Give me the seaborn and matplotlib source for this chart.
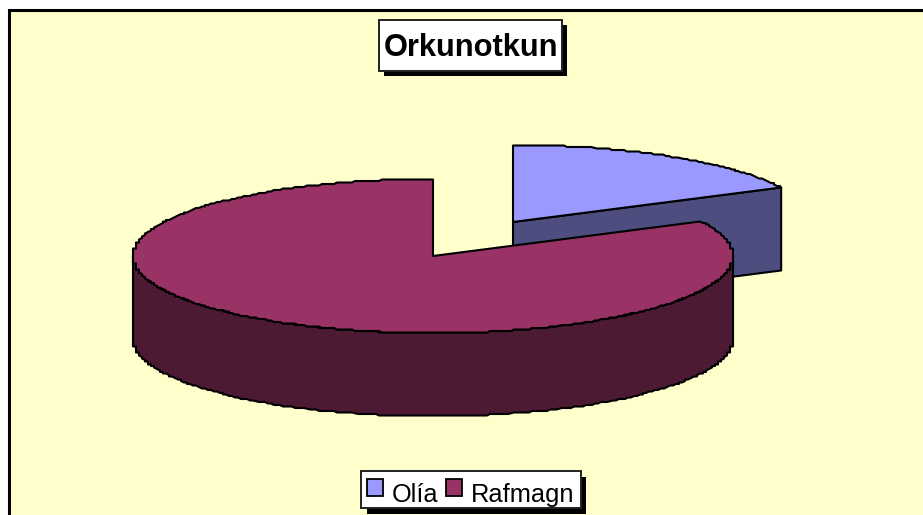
import numpy as np
import matplotlib
matplotlib.use("Agg")
import matplotlib.pyplot as plt
import seaborn as sns
from matplotlib.patches import Patch, Polygon, Rectangle

title = "Orkunotkun"
categories = ["Olía", "Rafmagn"]
values = [17.6, 82.4]
top_colors = ["#9999FF", "#993366"]
side_colors = ["#4D4D80", "#4D1A33"]

BG = "#FFFFCC"
RX, RY, DEPTH = 300, 77, 83


def rim(cx, cy, start, stop, n=240):
    # stepped rim: the original is rasterised with small jagged edges
    t = np.radians(np.linspace(start, stop, n))
    x = RX * np.cos(t)
    y = RY * np.sin(t)
    return np.column_stack([cx + np.round(x / 3) * 3, cy - np.round(y / 1.5) * 1.5])


sns.set_theme(style="white")
plt.rcParams["font.family"] = ["Liberation Sans", "DejaVu Sans"]

fig = plt.figure(figsize=(9.23, 5.15), dpi=100, facecolor="white")
ax = fig.add_axes([0, 0, 1, 1])
ax.set_xlim(0, 923)
ax.set_ylim(515, 0)
ax.axis("off")

ax.add_patch(Rectangle((9, 10), 930, 520, fc=BG, ec="black", lw=2.2, zorder=0))

# slice angles run clockwise from 12 o'clock
blue_sweep = 360 * values[0] / sum(values)
cut = 90 - blue_sweep
edge = dict(ec="black", lw=1.5, joinstyle="round")

# Olía, pulled out up and to the right of the pie
bx, by = 513, 222
t = np.radians(cut)
p = np.array([bx + RX * np.cos(t), by - RY * np.sin(t)])
ax.add_patch(Polygon([[bx, by], p, p + [0, DEPTH], [bx, by + DEPTH]],
                     fc=side_colors[0], zorder=2, **edge))
blue_top = np.vstack([[bx, by], rim(bx, by, 90, cut, 80), p])
ax.add_patch(Polygon(blue_top, fc=top_colors[0], zorder=3, **edge))

# Rafmagn
rx, ry = 433, 256
front = rim(rx, ry, 180, 360)
ax.add_patch(Polygon(np.vstack([front, (front + [0, DEPTH])[::-1]]),
                     fc=side_colors[1], zorder=4, **edge))
red_top = np.vstack([[rx, ry], rim(rx, ry, 90, 360 + cut, 400)])
ax.add_patch(Polygon(red_top, fc=top_colors[1], zorder=5, **edge))

# title box with hard shadow
ax.add_patch(Rectangle((384, 25), 183, 51, fc="black", ec="none", zorder=6))
ax.add_patch(Rectangle((379, 20), 183, 51, fc="white", ec="#222222", lw=1.4, zorder=7))
ax.text(471, 47.5, title, ha="center", va="center", fontsize=22.2,
        fontweight="bold", color="black", zorder=8)

handles = [Patch(fc=c, ec="black", lw=1.3) for c in top_colors]
leg = ax.legend(
    handles, categories, ncol=2, loc="lower left",
    bbox_to_anchor=(361 / 923, (515 - 508) / 515),
    fontsize=18.3, frameon=True, fancybox=False, framealpha=1,
    facecolor="white", edgecolor="#222222", labelcolor="black",
    shadow={"ox": 4, "oy": -4, "alpha": 1, "facecolor": "black", "edgecolor": "none"},
    borderaxespad=0, borderpad=0.25, handlelength=0.62, handleheight=0.62,
    handletextpad=0.35, columnspacing=0.3,
)
leg.get_frame().set_linewidth(1.4)
leg.set_zorder(9)
# legend labels sit low in the box in the original
for label in leg.get_texts():
    label.set_y(-5)

fig.savefig("out.png", dpi=100)
